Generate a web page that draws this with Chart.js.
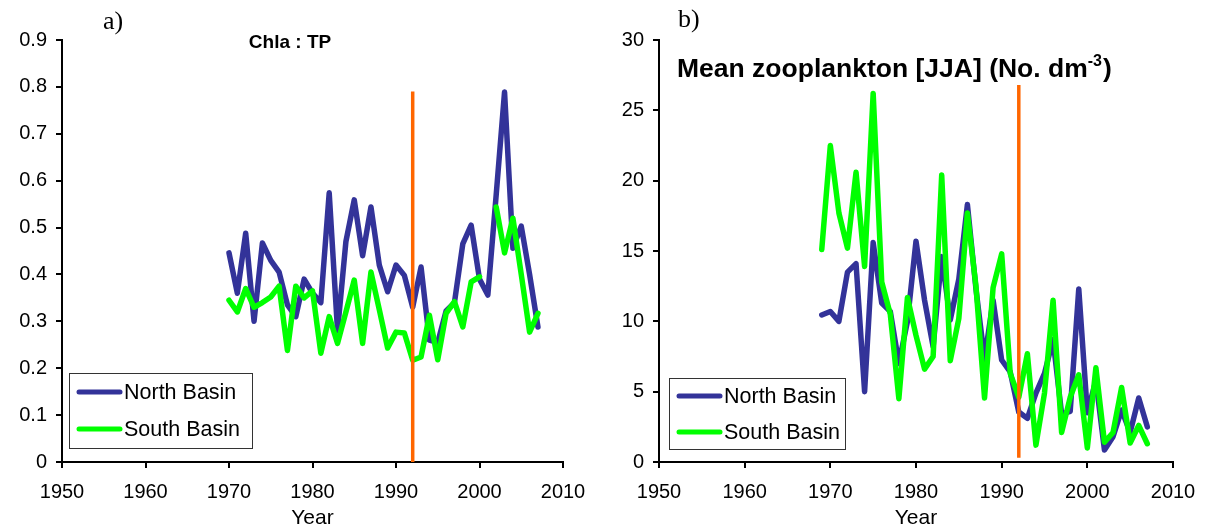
<!DOCTYPE html>
<html>
<head>
<meta charset="utf-8">
<title>Chla:TP and zooplankton, North and South Basin</title>
<script src="https://cdn.jsdelivr.net/npm/chart.js@4.4.1/dist/chart.umd.min.js"></script>
<style>
  html, body { margin: 0; padding: 0; background: #ffffff; }
  #wrap { position: relative; width: 1210px; height: 531px; overflow: hidden; }
  canvas { position: absolute; top: 0; }
  #chartA { left: 0; }
  #chartB { left: 605px; }
</style>
</head>
<body>
<div id="wrap">
  <canvas id="chartA" width="605" height="531"></canvas>
  <canvas id="chartB" width="605" height="531"></canvas>
</div>
<script>
// ---- Panel a) Chla : TP ratio ----
const yearsA = [1970, 1971, 1972, 1973, 1974, 1975, 1976, 1977, 1978, 1979,
                1980, 1981, 1982, 1983, 1984, 1985, 1986, 1987, 1988, 1989,
                1990, 1991, 1992, 1993, 1994, 1995, 1996, 1997, 1998, 1999,
                2000, 2001, 2002, 2003, 2004, 2005, 2006, 2007];
const northA = [0.446, 0.36, 0.488, 0.30, 0.467, 0.43, 0.405, 0.335, 0.31, 0.39,
                0.36, 0.34, 0.574, 0.28, 0.47, 0.559, 0.44, 0.544, 0.42, 0.363,
                0.42, 0.398, 0.33, 0.416, 0.26, 0.255, 0.322, 0.34, 0.465, 0.505,
                0.39, 0.356, 0.57, 0.789, 0.456, 0.503, 0.40, 0.288];
const southA = [0.345, 0.32, 0.37, 0.33, 0.34, 0.352, 0.375, 0.238, 0.375, 0.35,
                0.365, 0.232, 0.31, 0.253, 0.32, 0.388, 0.253, 0.405, 0.325, 0.243,
                0.277, 0.275, 0.217, 0.224, 0.313, 0.218, 0.317, 0.342, 0.288, 0.384,
                0.395, null, 0.544, 0.446, 0.52, 0.40, 0.277, 0.317];
const yTicksA = [0, 0.1, 0.2, 0.3, 0.4, 0.5, 0.6, 0.7, 0.8, 0.9];

// ---- Panel b) mean zooplankton, June-August ----
const yearsB = [1969, 1970, 1971, 1972, 1973, 1974, 1975, 1976, 1977, 1978,
                1979, 1980, 1981, 1982, 1983, 1984, 1985, 1986, 1987, 1988,
                1989, 1990, 1991, 1992, 1993, 1994, 1995, 1996, 1997, 1998,
                1999, 2000, 2001, 2002, 2003, 2004, 2005, 2006, 2007];
const northB = [10.45, 10.7, 10.0, 13.5, 14.1, 5.0, 15.6, 11.3, 10.7, 7.0,
                10.0, 15.7, 11.5, 8.2, 14.6, 10.1, 13.0, 18.3, 12.3, 7.3,
                11.5, 7.25, 6.4, 3.55, 3.1, 4.9, 6.3, 8.7, 3.4, 3.6,
                12.3, 3.5, 5.8, 0.85, 1.8, 3.7, 2.1, 4.55, 2.5];
const southB = [15.1, 22.5, 17.7, 15.2, 20.6, 13.9, 26.2, 12.8, 10.5, 4.5,
                11.7, 9.0, 6.6, 7.5, 20.4, 7.2, 10.2, 17.7, 12.5, 4.55,
                12.4, 14.8, 6.3, 4.6, 7.7, 1.2, 4.9, 11.5, 2.1, 4.6,
                6.2, 1.0, 6.7, 1.4, 2.1, 5.3, 1.35, 2.6, 1.3];
const yTicksB = [0, 5, 10, 15, 20, 25, 30];

// x axis (shared)
const xTicks = [1950, 1960, 1970, 1980, 1990, 2000, 2010];
const seriesNames = ['North Basin', 'South Basin'];

// regime shift marker: year and vertical extent in each panel
const shiftYear = 1992;
const shiftA = [0, 0.79];
const shiftB = [0.3, 26.8];

const BLUE = '#333399';
const GREEN = '#00FF00';
const ORANGE = '#FF6600';
const SANS = '"Liberation Sans", Arial, Helvetica, sans-serif';
const SERIF = '"Liberation Serif", "Times New Roman", serif';

const toPoints = (xs, ys) => xs.map((x, i) => ({ x: x, y: ys[i] }));

// titles, panel letters and the boxed legend
const decor = {
  id: 'decor',
  afterDraw(chart, args, o) {
    const ctx = chart.ctx;
    ctx.save();
    // panel letter
    ctx.fillStyle = '#000';
    ctx.font = '26px ' + SERIF;
    ctx.textAlign = 'left';
    ctx.textBaseline = 'alphabetic';
    ctx.fillText(o.letter, o.letterX, o.letterY);

    // panel title (optional superscript)
    ctx.font = 'bold ' + o.titleSize + 'px ' + SANS;
    ctx.textAlign = 'left';
    let tx = o.titleX;
    if (o.titleCenter) tx = o.titleX - ctx.measureText(o.title).width / 2;
    ctx.fillText(o.title, tx, o.titleY);
    if (o.titleSup) {
      const w1 = ctx.measureText(o.title).width;
      ctx.font = 'bold ' + Math.round(o.titleSize * 0.6) + 'px ' + SANS;
      ctx.fillText(o.titleSup, tx + w1, o.titleY - o.titleSize * 0.42);
      const w2 = ctx.measureText(o.titleSup).width;
      ctx.font = 'bold ' + o.titleSize + 'px ' + SANS;
      ctx.fillText(o.titleEnd, tx + w1 + w2 + 1, o.titleY);
    }

    // legend box
    const L = o.legend;
    ctx.fillStyle = '#fff';
    ctx.fillRect(L.x, L.y, L.w, L.h);
    ctx.strokeStyle = '#333';
    ctx.lineWidth = 1;
    ctx.strokeRect(L.x + 0.5, L.y + 0.5, L.w, L.h);
    const items = chart.data.datasets.filter(d => seriesNames.includes(d.label));
    items.sort((a, b) => seriesNames.indexOf(a.label) - seriesNames.indexOf(b.label));
    ctx.font = L.font + 'px ' + SANS;
    ctx.textBaseline = 'middle';
    items.forEach((d, i) => {
      const yy = L.rows[i];
      ctx.strokeStyle = d.borderColor;
      ctx.lineWidth = 5;
      ctx.lineCap = 'round';
      ctx.beginPath();
      ctx.moveTo(L.sx0, yy);
      ctx.lineTo(L.sx1, yy);
      ctx.stroke();
      ctx.fillStyle = '#000';
      ctx.fillText(d.label, L.tx, yy + 1);
    });
    ctx.restore();
  }
};

function makeChart(id, cfg) {
  return new Chart(document.getElementById(id), {
    type: 'line',
    data: {
      datasets: [
        {
          label: seriesNames[0], data: toPoints(cfg.years, cfg.north),
          borderColor: BLUE, borderWidth: 5.5, order: 2
        },
        {
          label: seriesNames[1], data: toPoints(cfg.years, cfg.south),
          borderColor: GREEN, borderWidth: 5.5, order: 1, spanGaps: false
        },
        {
          label: 'shift', data: [{ x: shiftYear, y: cfg.shift[0] }, { x: shiftYear, y: cfg.shift[1] }],
          borderColor: ORANGE, borderWidth: 3.5, order: 0, borderCapStyle: 'butt'
        }
      ]
    },
    options: {
      responsive: false,
      animation: false,
      events: [],
      layout: { padding: { top: 40, right: cfg.padRight, left: 0, bottom: 0 } },
      elements: {
        point: { radius: 0, hoverRadius: 0 },
        line: { tension: 0, borderJoinStyle: 'round', borderCapStyle: 'round', fill: false }
      },
      plugins: {
        legend: { display: false },
        tooltip: { enabled: false },
        decor: cfg.decor
      },
      scales: {
        x: {
          type: 'linear', min: xTicks[0], max: xTicks[xTicks.length - 1],
          afterBuildTicks: s => { s.ticks = xTicks.map(v => ({ value: v })); },
          ticks: {
            color: '#000', font: { family: SANS, size: 20 }, padding: 12,
            maxRotation: 0, autoSkip: false, callback: v => String(v)
          },
          grid: { drawOnChartArea: false, drawTicks: true, tickLength: 6, color: '#000', lineWidth: 2 },
          border: { display: true, color: '#000', width: 2 },
          title: { display: true, text: 'Year', color: '#000', font: { family: SANS, size: 21 }, padding: { top: 0, bottom: 0 } },
          afterFit: s => { s.height = 69; }
        },
        y: {
          type: 'linear', min: cfg.yTicks[0], max: cfg.yTicks[cfg.yTicks.length - 1],
          afterBuildTicks: s => { s.ticks = cfg.yTicks.map(v => ({ value: v })); },
          ticks: {
            color: '#000', font: { family: SANS, size: 20 }, padding: 9,
            autoSkip: false, callback: v => String(Math.round(v * 10) / 10)
          },
          grid: { drawOnChartArea: false, drawTicks: true, tickLength: 6, color: '#000', lineWidth: 2 },
          border: { display: true, color: '#000', width: 2 },
          afterFit: s => { s.width = cfg.left; }
        }
      }
    },
    plugins: [decor]
  });
}

makeChart('chartA', {
  years: yearsA, north: northA, south: southA, yTicks: yTicksA, shift: shiftA,
  left: 62, padRight: 42,
  decor: {
    letter: 'a)', letterX: 103, letterY: 29,
    title: 'Chla : TP', titleSize: 19, titleX: 290, titleY: 48, titleCenter: true,
    legend: { x: 69, y: 373, w: 183, h: 75, rows: [392, 429], sx0: 79, sx1: 120, tx: 124, font: 21.5 }
  }
});

makeChart('chartB', {
  years: yearsB, north: northB, south: southB, yTicks: yTicksB, shift: shiftB,
  left: 54, padRight: 37,
  decor: {
    letter: 'b)', letterX: 73, letterY: 27,
    title: 'Mean zooplankton [JJA] (No. dm', titleSup: '-3', titleEnd: ')',
    titleSize: 26.5, titleX: 72, titleY: 77, titleCenter: false,
    legend: { x: 64, y: 378, w: 176, h: 71, rows: [396, 432], sx0: 74, sx1: 115, tx: 119, font: 21.5 }
  }
});
</script>
</body>
</html>
